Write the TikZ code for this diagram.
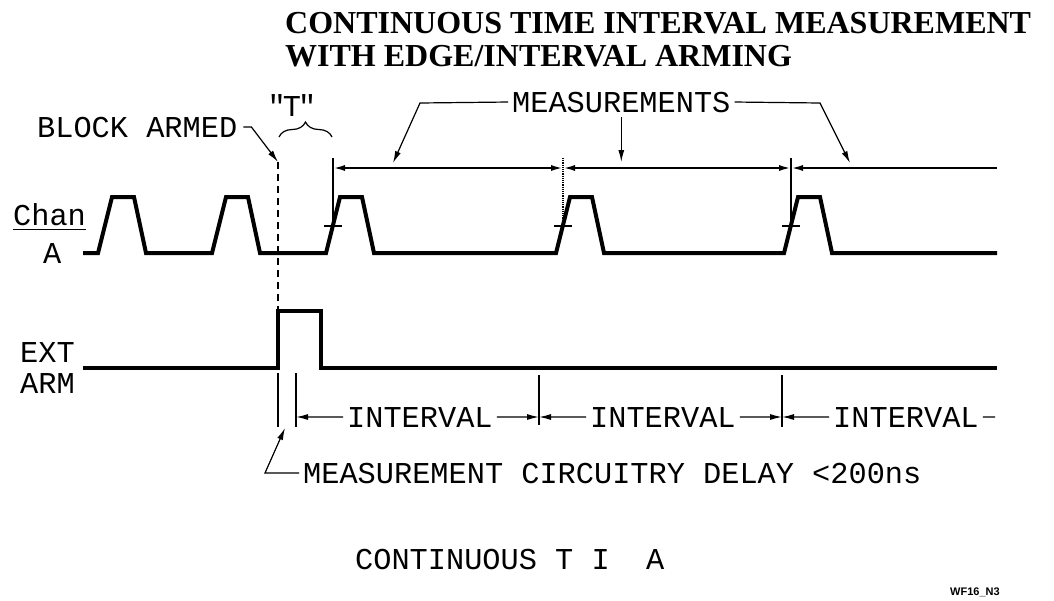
\documentclass[tikz,border=0pt]{standalone}
\usepackage{fontspec}
\setmainfont{Liberation Serif}
\newfontfamily\plotfam{Liberation Mono}[Ligatures=TeXOff]
\newfontfamily\tagfam{Liberation Sans}
\usetikzlibrary{positioning,arrows.meta,decorations.pathreplacing}
\newcommand{\plotfont}{\plotfam\fontsize{30.3}{32}\selectfont}

\begin{document}
\begin{tikzpicture}[x=1pt, y=-1pt, >={Latex[length=12pt,width=6pt]},
  wave/.style={line width=4pt, line join=miter},
  thinline/.style={line width=1.2pt},
  dimline/.style={line width=2pt},
  plot/.style={font=\plotfont, inner sep=0pt, anchor=base west},
  gaplabel/.style={font=\plotfont, inner xsep=4pt, inner ysep=0pt, anchor=base west},
  titleline/.style={font=\bfseries\fontsize{32}{33}\selectfont, inner sep=0pt, anchor=base west}]
  \useasboundingbox (0,0) rectangle (1054,600);

  \node[titleline] (title1) at (285,33) {CONTINUOUS TIME INTERVAL MEASUREMENT};
  \node[titleline] (title2) at (285,66) {WITH EDGE/INTERVAL ARMING};

  \node[plot] (blk) at (37,137) {BLOCK ARMED};
  \node[plot, anchor=base] (tlbl) at (292,116) {"\kern-3pt T\kern-3pt"};
  \node[gaplabel] (meas) at (508,112) {MEASUREMENTS};
  \node[plot] (chan) at (13,225) {Chan};
  \node[plot] (chana) at (43,263) {A};
  \node[plot] (ext) at (20,362) {EXT};
  \node[plot] (arm) at (20,393) {ARM};
  \node[gaplabel] (int1) at (343,427) {INTERVAL};
  \node[gaplabel] (int2) at (586,427) {INTERVAL};
  \node[gaplabel] (int3) at (829,427) {INTERVAL};
  \node[gaplabel] (delay) at (299,483) {MEASUREMENT CIRCUITRY DELAY <200ns};
  \node[plot] (tia) at (355,569) {CONTINUOUS T I\ \ A};
  \node[font=\tagfam\bfseries\fontsize{11}{12}\selectfont, inner sep=0pt, anchor=base west] (tag) at (950,595) {WF16\_N3};

  \coordinate (armtop) at (278,162);
  \coordinate (mla) at (393,163);
  \coordinate (mmid) at (621,162);
  \coordinate (mra) at (850,163);
  \coordinate (m0) at (333,168);
  \coordinate (m1) at (563,168);
  \coordinate (m2) at (791,168);
  \coordinate (mend) at (997,168);
  \coordinate (i0) at (296,417);
  \coordinate (i1) at (539,417);
  \coordinate (i2) at (782,417);
  \coordinate (iend) at (995,417);
  \coordinate (dtip) at (285,428);

  \draw[wave] (83,253) foreach \m in {105,219,333,563,791} { -- (\m-7,253) -- (\m+7,197) -- (\m+29,197) -- (\m+41,253) } -- (997,253);
  \draw[wave] (83,368) -- (278,368) -- (278,311) -- (321,311) -- (321,368) -- (997,368);
  \draw[thinline] ([yshift=-4pt]chan.south west) -- ([yshift=-4pt]chan.south east);

  \draw[thinline, dash pattern=on 7pt off 5pt] (armtop) -- (278,311);
  \draw[thinline, ->] ([xshift=6pt]blk.east) -- ++(8,0) -- (armtop);
  \draw[thinline, decorate, decoration={brace, amplitude=15pt}] (279,137) -- (332,137);

  \draw[thinline, ->] (meas.west) -- (420,103) -- (mla);
  \draw[thinline, ->] ([yshift=-5pt]meas.south) -- (meas.south |- mmid);
  \draw[thinline, ->] (meas.east) -- (820,103) -- (mra);

  \draw[thinline] (333,158) -- (333,228);
  \draw[thinline, densely dotted] (563,158) -- (563,230);
  \draw[thinline] (791,158) -- (791,230);
  \foreach \m in {333,563,791}
    \draw[thinline] (\m-9,226) -- (\m+9,226);
  \draw[dimline, <->] (m0) -- (m1);
  \draw[dimline, <->] (m1) -- (m2);
  \draw[dimline, <-] (m2) -- (mend);

  \draw[thinline] (278,373) -- (278,427);
  \draw[thinline] (296,373) -- (296,427);
  \draw[thinline] (539,375) -- (539,425);
  \draw[thinline] (782,375) -- (782,427);
  \draw[thinline, <-] (i0) -- (int1.west);
  \draw[thinline, ->] (int1.east) -- (i1);
  \draw[thinline, <-] (i1) -- (int2.west);
  \draw[thinline, ->] (int2.east) -- (i2);
  \draw[thinline, <-] (i2) -- (int3.west);
  \draw[thinline] (int3.east) -- (iend);

  \draw[thinline, ->] (delay.west) -- (265,473) -- (dtip);
\end{tikzpicture}
\end{document}
